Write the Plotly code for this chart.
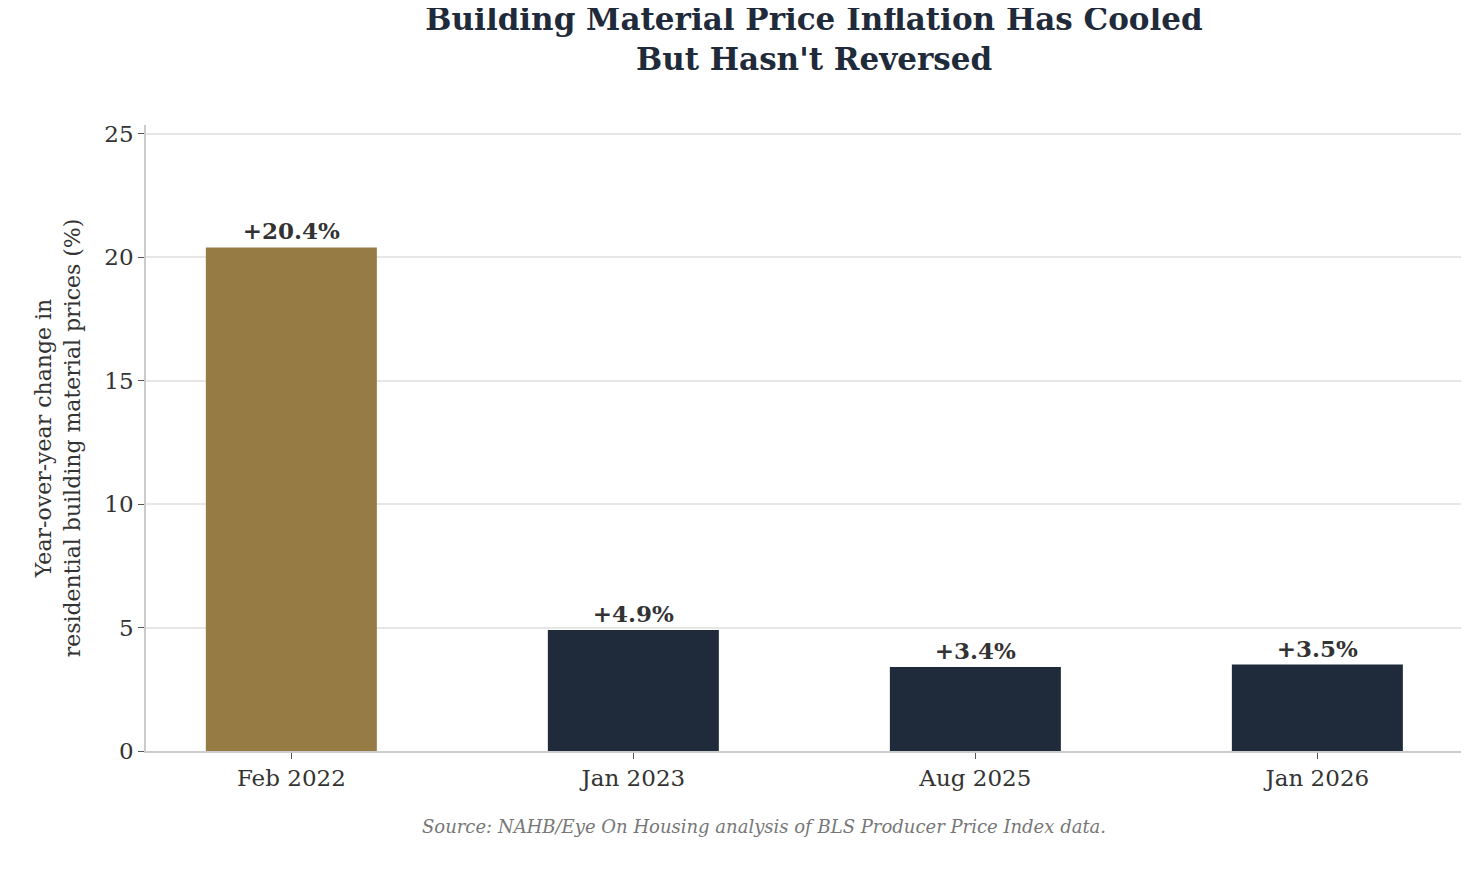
import plotly.graph_objs as go

periods = ["Feb 2022", "Jan 2023", "Aug 2025", "Jan 2026"]
yoy_change = [20.4, 4.9, 3.4, 3.5]
bar_colors = ["#967b45", "#1f2a3a", "#1f2a3a", "#1f2a3a"]
labels = [f"<b>+{v:.1f}%</b>" for v in yoy_change]

fnt = "DejaVu Serif"

fig = go.Figure()
fig.add_trace(go.Bar(
    x=periods, y=yoy_change, marker_color=bar_colors, marker_line_width=0,
    width=0.5, text=labels, textposition="outside", cliponaxis=False,
    textfont=dict(family=fnt, size=23, color="#333333"),
))
fig.update_layout(
    width=1479, height=870,
    margin=dict(l=138, r=26, t=117, b=127),
    plot_bgcolor="white", paper_bgcolor="white",
    font=dict(family=fnt, size=22, color="#333333"),
    showlegend=False,
    title=dict(text="<b>Building Material Price Inflation Has Cooled<br>But Hasn't Reversed</b>",
               x=0.545, xanchor="center", y=0.975, yanchor="top",
               font=dict(family=fnt, size=31, color="#1f2a3a")),
    xaxis=dict(range=[-0.425, 3.42], showline=True, linecolor="#cccccc", linewidth=1.5,
               ticks="outside", ticklen=6, tickcolor="#555555", showgrid=False,
               tickfont=dict(size=23)),
    yaxis=dict(range=[0, 25.36], dtick=5, showline=True, linecolor="#cccccc", linewidth=1.5,
               ticks="outside", ticklen=6, tickcolor="#555555",
               gridcolor="#e6e6e6", gridwidth=1.5, zeroline=False,
               tickfont=dict(size=23),
               title=dict(text="Year-over-year change in<br>residential building material prices (%)",
                          font=dict(size=22), standoff=18)),
    annotations=[dict(text="<i>Source: NAHB/Eye On Housing analysis of BLS Producer Price Index data.</i>",
                      xref="paper", yref="paper", x=0.47, y=-0.14, xanchor="center",
                      showarrow=False, font=dict(family=fnt, size=18, color="#777777"))],
)
fig.write_html("out.html")
